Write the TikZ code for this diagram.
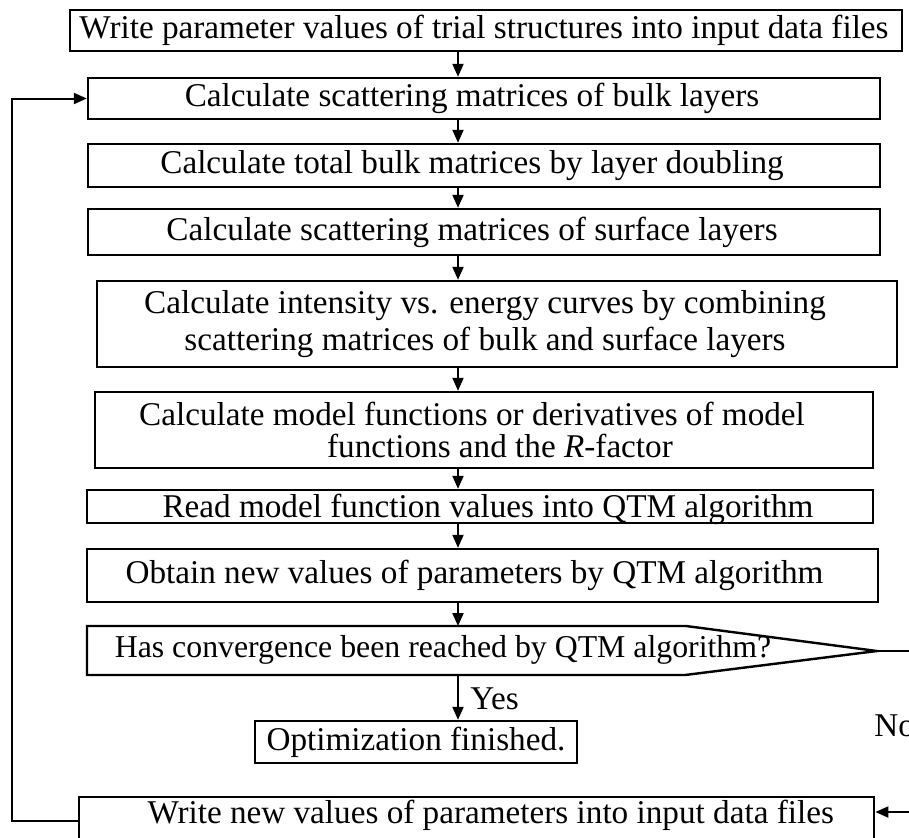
\documentclass[tikz,border=0pt]{standalone}
\usepackage{fontspec}
\setmainfont{Liberation Serif}
\usetikzlibrary{arrows.meta,calc}
\newcommand\shx[2]{\hspace*{#1pt}#2}
\begin{document}
\begin{tikzpicture}[x=0.5pt,y=-0.5pt,
  txt/.style={font=\fontsize{16.6}{18}\selectfont},
  box/.style={draw, line width=1.2pt, inner sep=0pt, anchor=center, txt},
  wh/.style 2 args={minimum width=#1*0.5pt, minimum height=#2*0.5pt},
  arr/.style={line width=1pt, -{Triangle[length=6.5pt,width=5.5pt]}},
  ln/.style={line width=1pt},
  lbl/.style={inner sep=0pt, txt}]
\useasboundingbox (0,0) rectangle (909,837);
\clip (0,0) rectangle (909,837);
\coordinate (ax) at (458,0);
\coordinate (lx) at (12,0);

\node[box, wh={832}{41}] (b1) at (486,30.5) {\shx{-2}{Write parameter values of trial structures into input data files}};
\node[box, wh={792}{41}] (b2) at (484,98.5) {\shx{-12}{Calculate scattering matrices of bulk layers}};
\node[box, wh={792}{43}] (b3) at (484,165.5) {\shx{-12}{Calculate total bulk matrices by layer doubling}};
\node[box, wh={792}{46}] (b4) at (484,232) {\shx{-12}{Calculate scattering matrices of surface layers}};
\node[box, wh={800}{86}, align=center, font=\fontsize{16.6}{18.5}\selectfont] (b5) at (497,324) {\shx{-12}{Calculate intensity vs. energy curves by combining}\\\shx{-12}{scattering matrices of bulk and surface layers}};
\node[box, wh={778}{76}, align=center, font=\fontsize{16.6}{16.2}\selectfont] (b6) at (484,430) {\shx{-12}{Calculate model functions or derivatives of model}\\\shx{16}{functions and the \textit{R}-factor}};
\node[box, wh={786}{33}, text height=11pt, text depth=0pt] (b7) at (480,506.5) {\shx{8}{Read model function values into QTM algorithm}};
\node[box, wh={791}{53}] (b8) at (482.5,575.5) {\shx{-8}{Obtain new values of parameters by QTM algorithm}};

\coordinate (d1) at (87,626);
\coordinate (d2) at (686,626);
\coordinate (dp) at (877,651);
\coordinate (d3) at (685,675);
\coordinate (d4) at (87,675);
\draw[line width=1.2pt] (d1) -- (d2) -- (dp) -- (d3) -- (d4) -- cycle;
\node[lbl, font=\fontsize{15.9}{18}\selectfont] (dec) at (443,650) {Has convergence been reached by QTM algorithm?};

\node[box, wh={322}{42}] (opt) at (416,742) {Optimization finished.};
\node[lbl, anchor=west] (yes) at (470,699) {Yes};
\node[lbl, anchor=west] (no) at (874,726) {No};

\node[box, anchor=north west, minimum width=795*0.5pt, inner ysep=2pt, text height=11pt, text depth=20pt] (bb) at (78,796) {\shx{14}{Write new values of parameters into input data files}};

\draw[arr] (b1.south -| ax) -- (b2.north -| ax);
\draw[arr] (b2.south -| ax) -- (b3.north -| ax);
\draw[arr] (b3.south -| ax) -- (b4.north -| ax);
\draw[arr] (b4.south -| ax) -- (b5.north -| ax);
\draw[arr] (b5.south -| ax) -- (b6.north -| ax);
\draw[arr] (b6.south -| ax) -- (b7.north -| ax);
\draw[arr] (b7.south -| ax) -- (b8.north -| ax);
\draw[arr] (b8.south -| ax) -- (ax |- d1);
\draw[arr] (ax |- d4) -- (opt.north -| ax);

\coordinate (nend) at (925,651);
\draw[ln] (dp) -- (nend);
\coordinate (rin) at (925,812);
\draw[arr] (rin) -- (rin -| bb.east);
\coordinate (bbl) at ($(bb.north west)+(0,25)$);
\draw[arr] (bbl) -- (bbl -| lx) |- (b2.west);
\end{tikzpicture}
\end{document}
